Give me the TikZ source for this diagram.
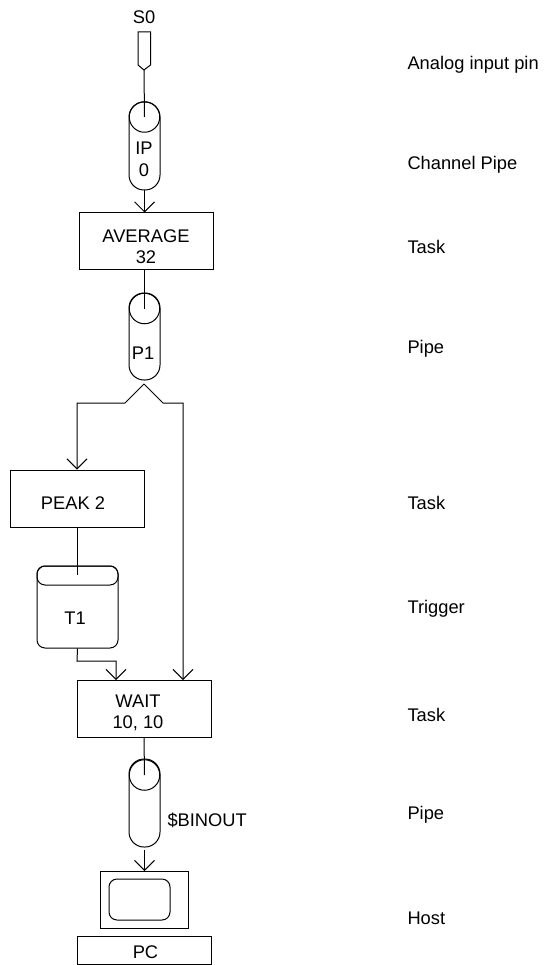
\documentclass[tikz,border=0pt]{standalone}
\usepackage{fontspec}
\setmainfont{Liberation Sans}
\usetikzlibrary{arrows.meta}
\tikzset{
  box/.style={draw,minimum width=134pt,inner sep=0pt},
  txt/.style={inner sep=0pt,align=center,font=\fontsize{18.3}{21}\selectfont},
  note/.style={inner sep=0pt,anchor=west,text height=13pt,text depth=0pt,font=\fontsize{18.3}{21}\selectfont},
  pipebody/.style={draw,minimum width=31pt,minimum height=#1,rounded corners=15pt,inner sep=0pt},
  pipetop/.style={draw,circle,minimum size=30.5pt,inner sep=0pt},
  arr/.style={-{Straight Barb[length=10pt,width=20pt]}}
}
\begin{document}
\begin{tikzpicture}[x=1pt,y=-1pt,line width=1pt]
\useasboundingbox (0,0) rectangle (544,965);

\node[txt] (s0) at (144,17) {S0};
\draw (138,32) -- (150.5,32) -- (150.5,65) -- (144,70) -- (138,65) -- cycle;
\coordinate (pintip) at (144,70);

\node[pipebody=88pt] (ip) at (144.5,146) {};
\node[pipetop] (iptop) at (144.5,117) {};
\node[txt] (iptext) at (144,159) {IP\\[1pt]0};

\node[box,minimum height=57pt] (average) at (146,241.5) {};
\node[txt] (averagetext) at (146,246.5) {AVERAGE\\32};

\node[pipebody=87pt] (p1) at (144.5,336.5) {};
\node[pipetop] (p1top) at (144.5,308.5) {};
\node[txt] (p1text) at (143,353) {P1};

\coordinate (split) at (144,384);
\coordinate (splitl) at (125,403);
\coordinate (splitr) at (163,403);

\node[box,minimum height=57pt] (peak) at (77,498.5) {};
\node[txt] (peaktext) at (73,503) {PEAK 2};

\node[draw,minimum width=81pt,minimum height=82pt,rounded corners=8pt,inner sep=0pt] (t1) at (77.5,607) {};
\node[draw,minimum width=81pt,minimum height=19pt,rounded corners=8pt,inner sep=0pt] (t1top) at (77.5,575.5) {};
\node[txt] (t1text) at (75,618) {T1};

\node[box,minimum height=57pt] (wait) at (144,708.5) {};
\node[txt] (waittext) at (138,713) {WAIT\\10, 10};

\node[pipebody=88pt] (binout) at (144.5,803) {};
\node[pipetop] (binouttop) at (144.5,775) {};
\node[txt,anchor=west] (binouttext) at (167,820) {\$BINOUT};

\node[draw,minimum width=88pt,minimum height=57pt,inner sep=0pt] (monitor) at (144,899.5) {};
\node[draw,minimum width=61pt,minimum height=41pt,rounded corners=8pt,inner sep=0pt] (screen) at (139.5,899.5) {};
\node[box,minimum height=28pt] (pc) at (144,950) {};
\node[txt] (pctext) at (145.5,952) {PC};

\draw (pintip) -- (iptop.center);
\draw[arr] (ip.south) -- (ip.south |- average.north);
\draw (average.south -| p1top) -- (p1top.center);
\draw[arr] (split) -- (splitl) -- (splitl -| peak.north) -- (peak.north);
\draw[arr] (split) -- (splitr) -- (183,403) -- (183,680);
\draw (peak.south) -- (77,575);
\draw[arr] (t1.south) -- (77,661) -- (116,661) -- (116,680);
\draw (wait.south) -- (binouttop.center);
\draw[arr] (144.5,850) -- (144.5,871);

\node[note] (n1) at (407,63) {Analog input pin};
\node[note] (n2) at (407,163) {Channel Pipe};
\node[note] (n3) at (407,247) {Task};
\node[note] (n4) at (407,347) {Pipe};
\node[note] (n5) at (407,503) {Task};
\node[note] (n6) at (407,607) {Trigger};
\node[note] (n7) at (407,715) {Task};
\node[note] (n8) at (407,813) {Pipe};
\node[note] (n9) at (407,918) {Host};
\end{tikzpicture}
\end{document}
